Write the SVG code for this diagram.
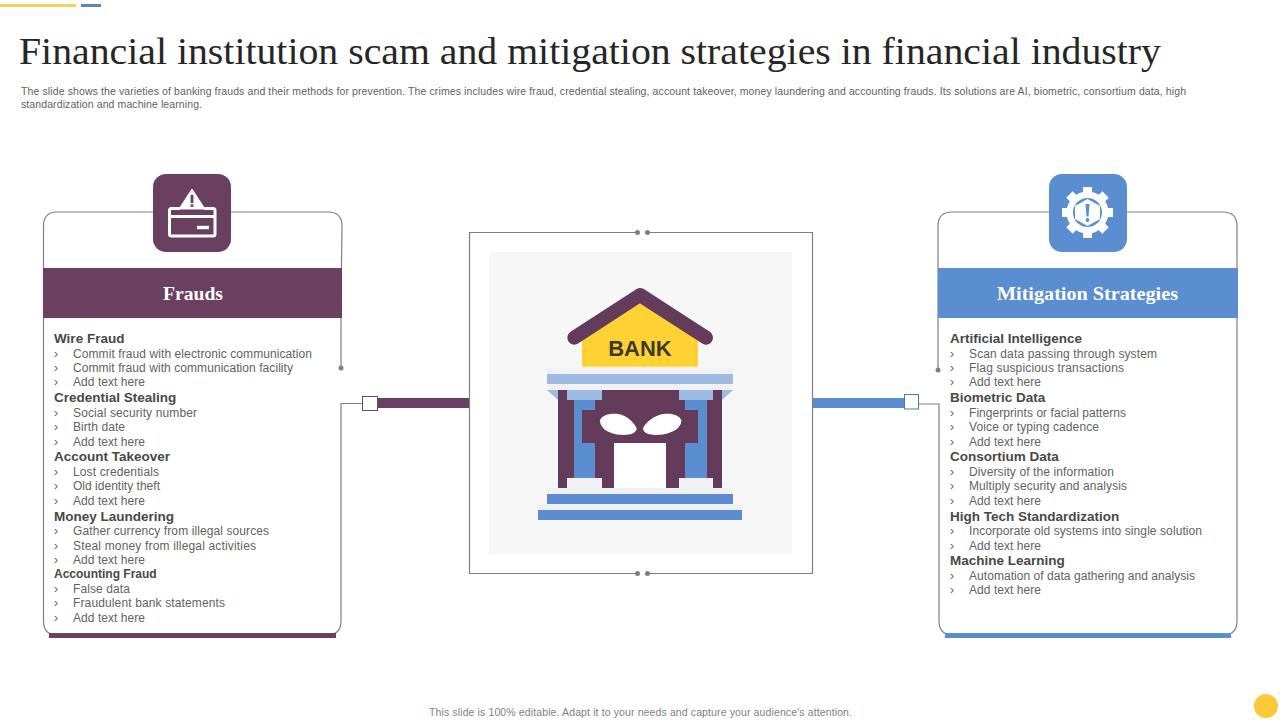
<svg xmlns="http://www.w3.org/2000/svg" width="1280" height="720" viewBox="0 0 1280 720">
<style>
text{font-family:"Liberation Sans",Arial,sans-serif}
.h{font-size:13.5px;font-weight:700;fill:#484848}
.i{font-size:12px;fill:#626262}
.s{font-size:10.5px;fill:#5f5f5f}
.b{font-size:10.5px;fill:#7f7f7f}
.t{font-family:"Liberation Serif","Times New Roman",serif;fill:#ffffff;font-weight:700;font-size:19px;text-anchor:middle}
.l{fill:none;stroke:#7f7f7f;stroke-width:1.2}
.d{fill:#7f7f7f}
.sq{fill:#fff;stroke-width:1}
</style>
<rect width="1280" height="720" fill="#fff"/>
<rect x="0" y="4" width="76" height="3" fill="#f2d55c"/>
<rect x="81" y="4" width="20" height="3" fill="#5b84c0"/>
<text id="title" x="19" y="64" textLength="1142" lengthAdjust="spacingAndGlyphs" style="font-family:'Liberation Serif','Times New Roman',serif;font-size:37px;fill:#262626">Financial institution scam and mitigation strategies in financial industry</text>
<text class="s" x="21" y="95" textLength="1165" lengthAdjust="spacing">The slide shows the varieties of banking frauds and their methods for prevention. The crimes includes wire fraud, credential stealing, account takeover, money laundering and accounting frauds. Its solutions are AI, biometric, consortium data, high</text>
<text class="s" x="21" y="108" textLength="181">standardization and machine learning.</text>

<g id="connectors">
<path class="l" d="M341 368V300L342 226Q342 212 328 212H57Q43.500 212 43.500 226V621Q43.500 635 57 635H327Q341 635 341 621V403.500H362"/>
<circle class="d" cx="341" cy="368" r="2.500"/>
<rect x="377" y="398" width="92.500" height="10" fill="#694060"/>
<rect class="sq" x="362.500" y="396.500" width="15" height="14" stroke="#555"/>
<path class="l" d="M938 370V226Q938 212 952 212H1223Q1237 212 1237 226V621Q1237 635 1223 635H953Q939 635 939 621V404H919"/>
<circle class="d" cx="938" cy="370" r="2.500"/>
<rect x="812.500" y="398" width="92" height="10" fill="#5b8ed1"/>
<rect class="sq" x="904.500" y="394.500" width="14" height="14.500" stroke="#4d7ba8"/>
<path class="l" d="M637.500 232.500H469.500V573.500H637.500M647.500 573.500H812.500V232.500H647.500"/>
<circle class="d" cx="637.500" cy="232.500" r="2.500"/><circle class="d" cx="647.500" cy="232.500" r="2.500"/>
<circle class="d" cx="637.500" cy="573.500" r="2.500"/><circle class="d" cx="647.500" cy="573.500" r="2.500"/>
</g>

<g id="frauds">
<rect x="43" y="268" width="299" height="50" fill="#694060"/>
<rect x="49" y="633" width="287" height="5" fill="#694060"/>
<rect x="153" y="174" width="78" height="78" rx="13" fill="#694060"/>
<g fill="none" stroke="#fff" stroke-width="3">
<path d="M180 208.500H171.500Q169.500 208.500 169.500 210.500V234Q169.500 236 171.500 236H213Q215 236 215 234V210.500Q215 208.500 213 208.500H204"/>
<path d="M170 216.500H214.500"/>
</g>
<rect x="197" y="225.800" width="12" height="3.400" fill="#fff"/>
<path d="M192 190L204 208.500H180Z" fill="#fff" stroke="#fff" stroke-linejoin="round" stroke-width="2"/>
<rect x="190.600" y="195" width="2.800" height="8" fill="#694060"/>
<rect x="190.600" y="204.300" width="2.800" height="2.600" fill="#694060"/>
<text class="t" x="193" y="299.500" textLength="60" lengthAdjust="spacingAndGlyphs">Frauds</text>
<text class="h" x="54" y="343">Wire Fraud</text>
<text class="i" x="73" y="358" textLength="239">Commit fraud with electronic communication</text>
<text class="i" x="73" y="372" textLength="220">Commit fraud with communication facility</text>
<text class="i" x="73" y="386" textLength="72">Add text here</text>
<text class="h" x="54" y="402">Credential Stealing</text>
<text class="i" x="73" y="417" textLength="124">Social security number</text>
<text class="i" x="73" y="431" textLength="52">Birth date</text>
<text class="i" x="73" y="446" textLength="72">Add text here</text>
<text class="h" x="54" y="461">Account Takeover</text>
<text class="i" x="73" y="476" textLength="86">Lost credentials</text>
<text class="i" x="73" y="490" textLength="87">Old identity theft</text>
<text class="i" x="73" y="505" textLength="72">Add text here</text>
<text class="h" x="54" y="521">Money Laundering</text>
<text class="i" x="73" y="535" textLength="196">Gather currency from illegal sources</text>
<text class="i" x="73" y="550" textLength="183">Steal money from illegal activities</text>
<text class="i" x="73" y="564" textLength="72">Add text here</text>
<text class="h" x="54" y="578" style="font-size:12px">Accounting Fraud</text>
<text class="i" x="73" y="593" textLength="57">False data</text>
<text class="i" x="73" y="607" textLength="152">Fraudulent bank statements</text>
<text class="i" x="73" y="622" textLength="72">Add text here</text>
<text class="i" x="54" y="358">›</text><text class="i" x="54" y="372">›</text><text class="i" x="54" y="386">›</text><text class="i" x="54" y="417">›</text><text class="i" x="54" y="431">›</text><text class="i" x="54" y="446">›</text><text class="i" x="54" y="476">›</text><text class="i" x="54" y="490">›</text><text class="i" x="54" y="505">›</text><text class="i" x="54" y="535">›</text><text class="i" x="54" y="550">›</text><text class="i" x="54" y="564">›</text><text class="i" x="54" y="593">›</text><text class="i" x="54" y="607">›</text><text class="i" x="54" y="622">›</text>
</g>

<g id="bank">
<rect x="489" y="252" width="303" height="302" fill="#f7f7f8"/>
<g transform="translate(460 220) scale(.33333)">
<path d="M366 440V352L540 250L714 352V440Z" fill="#ffd234"/>
<path d="M343 353L540 225L738 353" fill="none" stroke="#653b5c" stroke-width="42" stroke-linecap="round" stroke-linejoin="round"/>
<text x="540" y="408" text-anchor="middle" style="font-size:66px;font-weight:700;fill:#403a2c">BANK</text>
<rect x="261" y="443" width="558" height="67" fill="#f1f1f3"/>
<rect x="261" y="462" width="558" height="30" fill="#9dbbe3"/>
<path d="M261 510H294V540ZM819 510H786V540Z" fill="#9dbbe3"/>
<rect x="294" y="510" width="492" height="294" fill="#653b5c"/>
<rect x="342" y="540" width="63" height="234" fill="#5b8ed1"/>
<rect x="675" y="540" width="66" height="234" fill="#5b8ed1"/>
<rect x="321" y="510" width="105" height="30" fill="#9dbbe3"/>
<rect x="657" y="510" width="102" height="30" fill="#9dbbe3"/>
<rect x="366" y="570" width="348" height="99" fill="#653b5c"/>
<path d="M420 601C425 585 450 578 475 582C500 587 522 606 530 625C530 638 515 645 490 645C455 645 420 630 420 601Z" fill="#fff"/>
<path d="M664 601C659 585 634 578 609 582C584 587 556 606 549 625C549 638 564 645 589 645C624 645 664 630 664 601Z" fill="#fff"/>
<rect x="462" y="669" width="156" height="135" fill="#fff"/>
<rect x="321" y="774" width="105" height="30" fill="#f1f1f3"/>
<rect x="657" y="774" width="102" height="30" fill="#f1f1f3"/>
<rect x="261" y="804" width="558" height="18" fill="#f1f1f3"/>
<rect x="261" y="822" width="558" height="30" fill="#5b8ed1"/>
<rect x="234" y="852" width="612" height="18" fill="#f1f1f3"/>
<rect x="234" y="870" width="612" height="30" fill="#5b8ed1"/>
</g>
</g>

<g id="mitigation">
<rect x="938" y="268" width="300" height="50" fill="#5b8ed1"/>
<rect x="945" y="633" width="286" height="5" fill="#5b8ed1"/>
<rect x="1049" y="174" width="78" height="78" rx="13" fill="#5b8ed1"/>
<g fill="#fff">
<circle cx="1087.500" cy="212.500" r="21"/>
<g><rect x="1083" y="187" width="9" height="51"/><rect x="1083" y="187" width="9" height="51" transform="rotate(45 1087.500 212.500)"/><rect x="1083" y="187" width="9" height="51" transform="rotate(90 1087.500 212.500)"/><rect x="1083" y="187" width="9" height="51" transform="rotate(135 1087.500 212.500)"/></g>
</g>
<circle cx="1087.500" cy="212.500" r="14.500" fill="#5b8ed1"/>
<path d="M1087.500 199L1100 206V219L1087.500 226L1075 219V206Z" fill="#fff"/>
<path d="M1085.500 204H1089.500L1088.500 216.500H1086.500Z" fill="#5b8ed1"/>
<circle cx="1087.500" cy="220" r="1.900" fill="#5b8ed1"/>
<text class="t" x="1087.500" y="299.500" textLength="181" lengthAdjust="spacingAndGlyphs">Mitigation Strategies</text>
<text class="h" x="950" y="343">Artificial Intelligence</text>
<text class="i" x="969" y="358" textLength="188">Scan data passing through system</text>
<text class="i" x="969" y="372" textLength="155">Flag suspicious transactions</text>
<text class="i" x="969" y="386" textLength="72">Add text here</text>
<text class="h" x="950" y="402">Biometric Data</text>
<text class="i" x="969" y="417" textLength="157">Fingerprints or facial patterns</text>
<text class="i" x="969" y="431" textLength="130">Voice or typing cadence</text>
<text class="i" x="969" y="446" textLength="72">Add text here</text>
<text class="h" x="950" y="461">Consortium Data</text>
<text class="i" x="969" y="476" textLength="145">Diversity of the information</text>
<text class="i" x="969" y="490" textLength="158">Multiply security and analysis</text>
<text class="i" x="969" y="505" textLength="72">Add text here</text>
<text class="h" x="950" y="521">High Tech Standardization</text>
<text class="i" x="969" y="535" textLength="233">Incorporate old systems into single solution</text>
<text class="i" x="969" y="550" textLength="72">Add text here</text>
<text class="h" x="950" y="565">Machine Learning</text>
<text class="i" x="969" y="580" textLength="226">Automation of data gathering and analysis</text>
<text class="i" x="969" y="594" textLength="72">Add text here</text>
<text class="i" x="950" y="358">›</text><text class="i" x="950" y="372">›</text><text class="i" x="950" y="386">›</text><text class="i" x="950" y="417">›</text><text class="i" x="950" y="431">›</text><text class="i" x="950" y="446">›</text><text class="i" x="950" y="476">›</text><text class="i" x="950" y="490">›</text><text class="i" x="950" y="505">›</text><text class="i" x="950" y="535">›</text><text class="i" x="950" y="550">›</text><text class="i" x="950" y="580">›</text><text class="i" x="950" y="594">›</text>
</g>

<text class="b" x="429" y="716" textLength="423">This slide is 100% editable. Adapt it to your needs and capture your audience's attention.</text>
<circle cx="1266" cy="706" r="12" fill="#fdc93a"/>
</svg>
